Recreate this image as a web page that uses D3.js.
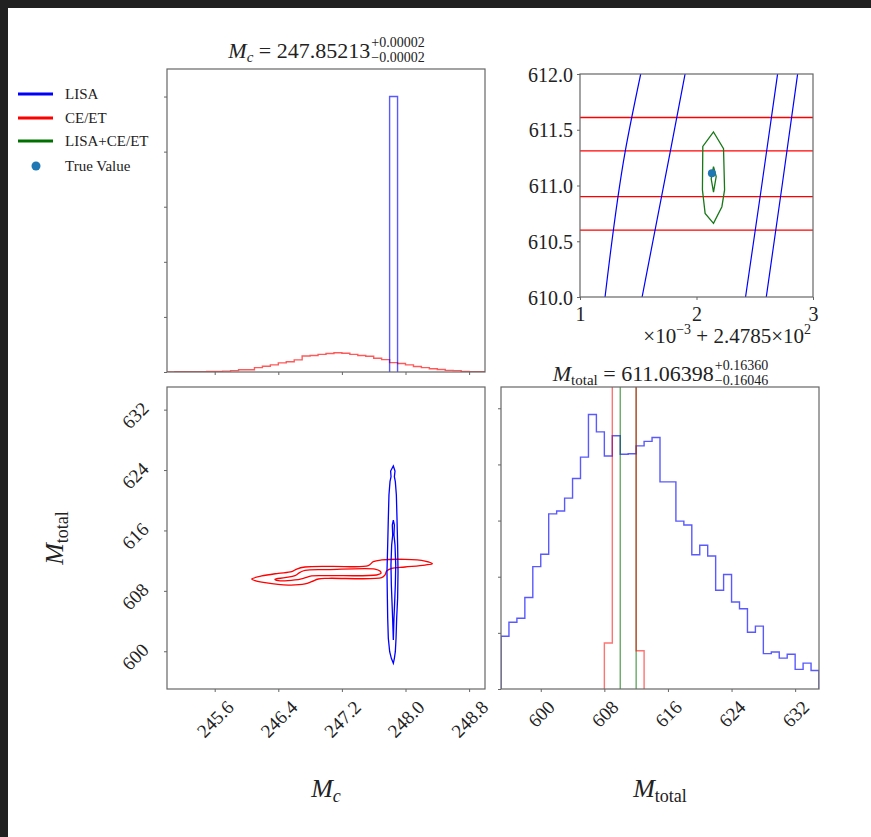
<!DOCTYPE html>
<html>
<head>
<meta charset="utf-8">
<script src="https://cdn.jsdelivr.net/npm/d3@7"></script>
<style>
  body { margin: 0; background: #212121; }
  svg text { font-family: "Liberation Serif", "DejaVu Serif", serif; fill: #222; }
</style>
</head>
<body>
<svg id="chart"></svg>
<script>
// ---- data ----
const mcDomain = [245.0, 249.0];
const mtDomain = [595, 635];
const mcTicks = [245.6, 246.4, 247.2, 248.0, 248.8];
const mtTicks = [600, 608, 616, 624, 632];

// M_c marginal, density, bins of 0.1 from 245.0
const mcBinStart = 245.0;
const mcBinWidth = 0.1;
const mcCE = [0, 0.01, 0.01, 0.01, 0.01, 0.02, 0.02, 0.03, 0.05, 0.08,
  0.08, 0.16, 0.21, 0.26, 0.33, 0.37, 0.44, 0.58, 0.60, 0.64,
  0.67, 0.70, 0.68, 0.64, 0.60, 0.57, 0.50, 0.45, 0.34, 0.31,
  0.26, 0.20, 0.16, 0.12, 0.09, 0.06, 0.05, 0.02, 0.01, 0.01];
const mcLISAStart = 247.8;
const mcLISA = [10.0];

// M_total marginal, density, bins of 1 from 595
const mtBinStart = 595;
const mtBinWidth = 1;
const mtLISA = [0.0094, 0.0119, 0.0126, 0.0163, 0.0218, 0.0240, 0.0312, 0.0317, 0.0340, 0.0375,
  0.0413, 0.0489, 0.0458, 0.0415, 0.0451, 0.0418, 0.0419, 0.0433, 0.0441, 0.0448,
  0.0369, 0.0369, 0.0299, 0.0292, 0.0239, 0.0256, 0.0237, 0.0176, 0.0204, 0.0155,
  0.0143, 0.0101, 0.0112, 0.0063, 0.0066, 0.0055, 0.0062, 0.0035, 0.0046, 0.0033];
const mtCEStart = 608;
const mtCE = [0.0082, 0.31, 0.36, 0.31, 0.0068];
const mtBothStart = 610;
const mtBoth = [0.5, 0.5];

// 2D contours (M_c, M_total)
const lisaOuter = [[247.847, 624.54], [247.868, 623.87], [247.860, 623.12], [247.872, 622.46],
  [247.885, 620.70], [247.893, 617.60], [247.901, 614.07], [247.906, 610.54], [247.901, 607.01],
  [247.889, 604.36], [247.881, 601.71], [247.872, 599.94], [247.860, 599.06], [247.847, 598.40],
  [247.822, 599.06], [247.801, 599.94], [247.784, 601.71], [247.776, 604.36], [247.772, 607.01],
  [247.767, 610.54], [247.776, 614.07], [247.784, 617.60], [247.792, 620.70], [247.805, 622.46],
  [247.818, 623.12], [247.813, 623.87]];
const lisaInner = [[247.847, 617.38], [247.860, 616.72], [247.855, 615.40], [247.868, 614.07],
  [247.877, 611.42], [247.872, 608.77], [247.864, 606.57], [247.855, 604.36], [247.847, 601.49],
  [247.838, 604.36], [247.830, 606.57], [247.822, 608.77], [247.817, 611.42], [247.826, 614.07],
  [247.839, 615.40], [247.834, 616.72]];
const ceOuter = [[246.065, 609.57], [246.191, 609.97], [246.400, 610.32], [246.568, 610.54],
  [246.631, 610.89], [246.736, 611.16], [247.071, 611.25], [247.532, 611.34], [247.595, 611.87],
  [247.700, 612.09], [247.994, 612.17], [248.245, 611.95], [248.338, 611.60], [248.245, 611.42],
  [247.994, 611.16], [247.826, 610.98], [247.763, 610.63], [247.742, 610.10], [247.700, 609.75],
  [247.029, 609.66], [246.904, 609.57], [246.820, 609.22], [246.736, 608.91], [246.526, 608.77],
  [246.233, 609.08], [246.107, 609.35]];
const ceInner = [[246.358, 609.53], [246.484, 609.75], [246.610, 610.01], [246.673, 610.45],
  [246.736, 610.72], [247.029, 610.81], [247.616, 610.89], [247.679, 610.63], [247.692, 610.32],
  [247.637, 610.10], [247.029, 610.01], [246.820, 609.97], [246.715, 609.66], [246.610, 609.44],
  [246.400, 609.35]];

// inset, x in units of 1e-3 above 247.85
const insetX = [1, 3];
const insetY = [610.0, 612.0];
const insetXTicks = [1, 2, 3];
const insetYTicks = [610.0, 610.5, 611.0, 611.5, 612.0];
const insetLisaLines = [
  [[1.215, 610.0], [1.387, 611.30], [1.521, 612.0]],
  [[1.533, 610.0], [1.774, 611.30], [1.902, 612.0]],
  [[2.421, 610.0], [2.560, 611.00], [2.696, 612.0]],
  [[2.599, 610.0], [2.735, 611.00], [2.868, 612.0]]];
const insetCELevels = [610.60, 610.90, 611.31, 611.61];
const insetBothOuter = [[2.146, 611.48], [2.232, 611.33], [2.241, 610.96], [2.218, 610.81],
  [2.146, 610.66], [2.074, 610.75], [2.051, 610.96], [2.054, 611.35]];
const insetBothInner = [[2.146, 611.17], [2.169, 611.08], [2.146, 610.94], [2.126, 611.06]];
const trueValue = [2.132, 611.11];

const legendItems = [
  { label: 'LISA', color: '#0000ff', type: 'line' },
  { label: 'CE/ET', color: '#ff0000', type: 'line' },
  { label: 'LISA+CE/ET', color: '#007000', type: 'line' },
  { label: 'True Value', color: '#1f77b4', type: 'dot' }];

// ---- layout ----
const W = 871, H = 837;
const svg = d3.select('#chart').attr('width', W).attr('height', H);
svg.append('rect').attr('width', W).attr('height', H).attr('fill', '#212121');
svg.append('rect').attr('x', 8).attr('y', 8).attr('width', W - 8).attr('height', H - 8).attr('fill', '#fff');

const serif = '"Liberation Serif", "DejaVu Serif", serif';
const spine = '#666';

const xMc = d3.scaleLinear().domain(mcDomain).range([167, 485]);
const xMt = d3.scaleLinear().domain(mtDomain).range([501, 819]);
const yMt = d3.scaleLinear().domain(mtDomain).range([689, 387]);
const yMcHist = d3.scaleLinear().domain([0, 1.1 * d3.max(mcLISA)]).range([372, 69]);
const yMtHist = d3.scaleLinear().domain([0, 1.1 * d3.max(mtLISA)]).range([689, 387]);
const xIn = d3.scaleLinear().domain(insetX).range([580, 813]);
const yIn = d3.scaleLinear().domain(insetY).range([297, 74]);

function clip(id, x, y, w, h) {
  svg.append('clipPath').attr('id', id).append('rect')
    .attr('x', x).attr('y', y).attr('width', w).attr('height', h);
  return svg.append('g').attr('clip-path', `url(#${id})`);
}

function frame(x, y, w, h) {
  svg.append('rect').attr('x', x).attr('y', y).attr('width', w).attr('height', h)
    .attr('fill', 'none').attr('stroke', spine).attr('stroke-width', 1.2);
}

function stepPoints(start, width, values) {
  const pts = [[start, 0]];
  values.forEach((v, i) => {
    pts.push([start + i * width, v]);
    pts.push([start + (i + 1) * width, v]);
  });
  pts.push([start + values.length * width, 0]);
  return pts;
}

function drawAxis(gen, tx, ty) {
  const g = svg.append('g').attr('transform', `translate(${tx},${ty})`).call(gen);
  g.select('.domain').remove();
  g.selectAll('.tick line').attr('stroke', spine).attr('stroke-width', 1);
  g.attr('font-family', serif);
  return g;
}

// 45 degree labels, centred on the tick like matplotlib's ha='center'
function rotatedLabels(g, fs, side) {
  g.selectAll('.tick text').each(function () {
    const t = d3.select(this).style('font-size', fs + 'px').attr('fill', '#222');
    const L = this.getComputedTextLength();
    const s = (L + 0.7 * fs) / Math.SQRT2;
    t.attr('x', 0).attr('y', 0).attr('dy', '0.35em').attr('text-anchor', 'middle');
    if (side === 'bottom') t.attr('transform', `translate(0,${10 + s / 2}) rotate(-45)`);
    else t.attr('transform', `translate(${-17 - s / 2},5) rotate(-45)`);
  });
}

// ---- top-left: M_c marginal ----
{
  const g = clip('c1', 167, 69, 318, 303);
  const line = d3.line().x(d => xMc(d[0])).y(d => yMcHist(d[1]));
  g.append('path').attr('d', line(stepPoints(mcBinStart, mcBinWidth, mcCE)))
    .attr('fill', 'none').attr('stroke', '#ff0000').attr('stroke-opacity', 0.65).attr('stroke-width', 1.4);
  g.append('path').attr('d', line(stepPoints(mcLISAStart, mcBinWidth, mcLISA)))
    .attr('fill', 'none').attr('stroke', '#0000ff').attr('stroke-opacity', 0.65).attr('stroke-width', 1.4);
  frame(167, 69, 318, 303);
  drawAxis(d3.axisBottom(xMc).tickValues(mcTicks).tickSize(3).tickFormat(''), 0, 372);
  drawAxis(d3.axisLeft(yMcHist).tickValues([0, 2, 4, 6, 8, 10]).tickSize(3).tickFormat(''), 167, 0);
}

// ---- bottom-left: 2D contours ----
{
  const g = clip('c2', 167, 387, 318, 302);
  const closed = d3.line().x(d => xMc(d[0])).y(d => yMt(d[1])).curve(d3.curveLinearClosed);
  const smooth = d3.line().x(d => xMc(d[0])).y(d => yMt(d[1])).curve(d3.curveCatmullRomClosed.alpha(0.5));
  [ceOuter, ceInner].forEach(c => g.append('path').attr('d', smooth(c))
    .attr('fill', 'none').attr('stroke', '#ff0000').attr('stroke-width', 1.3));
  [lisaOuter, lisaInner].forEach(c => g.append('path').attr('d', closed(c))
    .attr('fill', 'none').attr('stroke', '#0000ff').attr('stroke-width', 1.3));
  frame(167, 387, 318, 302);
  const ax = drawAxis(d3.axisBottom(xMc).tickValues(mcTicks).tickSize(3).tickFormat(d3.format('.1f')), 0, 689);
  rotatedLabels(ax, 19, 'bottom');
  const ay = drawAxis(d3.axisLeft(yMt).tickValues(mtTicks).tickSize(3).tickFormat(d3.format('d')), 167, 0);
  rotatedLabels(ay, 19, 'left');
}

// ---- bottom-right: M_total marginal ----
{
  const g = clip('c3', 501, 387, 318, 302);
  const line = d3.line().x(d => xMt(d[0])).y(d => yMtHist(d[1]));
  g.append('path').attr('d', line(stepPoints(mtBinStart, mtBinWidth, mtLISA)))
    .attr('fill', 'none').attr('stroke', '#0000ff').attr('stroke-opacity', 0.65).attr('stroke-width', 1.4);
  g.append('path').attr('d', line(stepPoints(mtBothStart, mtBinWidth, mtBoth)))
    .attr('fill', 'none').attr('stroke', '#007000').attr('stroke-opacity', 0.6).attr('stroke-width', 1.4);
  g.append('path').attr('d', line(stepPoints(mtCEStart, mtBinWidth, mtCE)))
    .attr('fill', 'none').attr('stroke', '#ff0000').attr('stroke-opacity', 0.55).attr('stroke-width', 1.4);
  frame(501, 387, 318, 302);
  const ax = drawAxis(d3.axisBottom(xMt).tickValues(mtTicks).tickSize(3).tickFormat(d3.format('d')), 0, 689);
  rotatedLabels(ax, 19, 'bottom');
  drawAxis(d3.axisLeft(yMtHist).tickValues([0, 0.01, 0.02, 0.03, 0.04, 0.05]).tickSize(3).tickFormat(''), 501, 0);
}

// ---- top-right: zoomed inset ----
{
  const g = clip('c4', 580, 74, 233, 223);
  const line = d3.line().x(d => xIn(d[0])).y(d => yIn(d[1]));
  const closed = d3.line().x(d => xIn(d[0])).y(d => yIn(d[1])).curve(d3.curveLinearClosed);
  insetCELevels.forEach(v => g.append('path').attr('d', line([[insetX[0], v], [insetX[1], v]]))
    .attr('stroke', '#ff0000').attr('stroke-width', 1.3));
  insetLisaLines.forEach(l => g.append('path').attr('d', d3.line().x(d => xIn(d[0])).y(d => yIn(d[1]))
    .curve(d3.curveMonotoneY)(l))
    .attr('fill', 'none').attr('stroke', '#0000ff').attr('stroke-width', 1.2));
  [insetBothOuter, insetBothInner].forEach(c => g.append('path').attr('d', closed(c))
    .attr('fill', 'none').attr('stroke', '#187818').attr('stroke-width', 1.3));
  g.append('circle').attr('cx', xIn(trueValue[0])).attr('cy', yIn(trueValue[1])).attr('r', 4)
    .attr('fill', '#1f77b4');
  frame(580, 74, 233, 223);
  const ax = drawAxis(d3.axisBottom(xIn).tickValues(insetXTicks).tickSize(3).tickFormat(d3.format('d')), 0, 297);
  ax.selectAll('.tick text').style('font-size', '20px').attr('fill', '#222').attr('y', 6).attr('dy', '0.9em');
  const ay = drawAxis(d3.axisLeft(yIn).tickValues(insetYTicks).tickSize(3).tickFormat(d3.format('.1f')), 580, 0);
  ay.selectAll('.tick text').style('font-size', '20px').attr('fill', '#222').attr('x', -7).attr('dy', '0.35em');
  const off = svg.append('text').attr('x', 811).attr('y', 343).attr('text-anchor', 'end')
    .style('font-size', '21px');
  off.append('tspan').text('×10');
  off.append('tspan').text('−3').style('font-size', '14px').attr('dy', -9);
  off.append('tspan').text(' + 2.4785×10').attr('dy', 9);
  off.append('tspan').text('2').style('font-size', '14px').attr('dy', -9);
}

// ---- titles with stacked errors ----
function scriptTitle(cx, base, sym, sub, subItalic, value, plus, minus) {
  const t = svg.append('text').attr('y', base).style('font-size', '22px');
  t.append('tspan').text(sym).style('font-style', 'italic');
  t.append('tspan').text(sub).style('font-size', '15px').style('font-style', subItalic ? 'italic' : 'normal').attr('dy', 4);
  t.append('tspan').text(' = ' + value).attr('dy', -4);
  const sp = svg.append('text').attr('y', base - 11).style('font-size', '14px').text(plus);
  const sb = svg.append('text').attr('y', base + 4).style('font-size', '14px').text(minus);
  const w1 = t.node().getComputedTextLength();
  const w2 = Math.max(sp.node().getComputedTextLength(), sb.node().getComputedTextLength());
  const x0 = cx - (w1 + w2) / 2;
  t.attr('x', x0);
  sp.attr('x', x0 + w1 + 1);
  sb.attr('x', x0 + w1 + 1);
}
scriptTitle(326, 58, 'M', 'c', true, '247.85213', '+0.00002', '−0.00002');
scriptTitle(660, 381, 'M', 'total', false, '611.06398', '+0.16360', '−0.16046');

// ---- axis labels ----
function axisLabel(x, y, sub, subItalic, rot) {
  const t = svg.append('text').attr('text-anchor', 'middle').style('font-size', '26px')
    .attr('transform', `translate(${x},${y})` + (rot ? ' rotate(-90)' : ''));
  t.append('tspan').text('M').style('font-style', 'italic');
  t.append('tspan').text(sub).style('font-size', '18px').attr('dy', 5)
    .style('font-style', subItalic ? 'italic' : 'normal');
}
axisLabel(326, 797, 'c', true, false);
axisLabel(660, 797, 'total', false, false);
axisLabel(63, 538, 'total', false, true);

// ---- legend ----
const leg = svg.append('g');
legendItems.forEach((d, i) => {
  const y = [94, 118, 141, 166][i];
  if (d.type === 'line') {
    leg.append('line').attr('x1', 18).attr('x2', 53).attr('y1', y).attr('y2', y)
      .attr('stroke', d.color).attr('stroke-width', 3);
  } else {
    leg.append('circle').attr('cx', 36).attr('cy', y).attr('r', 4.5).attr('fill', d.color);
  }
  leg.append('text').attr('x', 65).attr('y', y + 5).style('font-size', '15px').attr('fill', '#333').text(d.label);
});
</script>
</body>
</html>
